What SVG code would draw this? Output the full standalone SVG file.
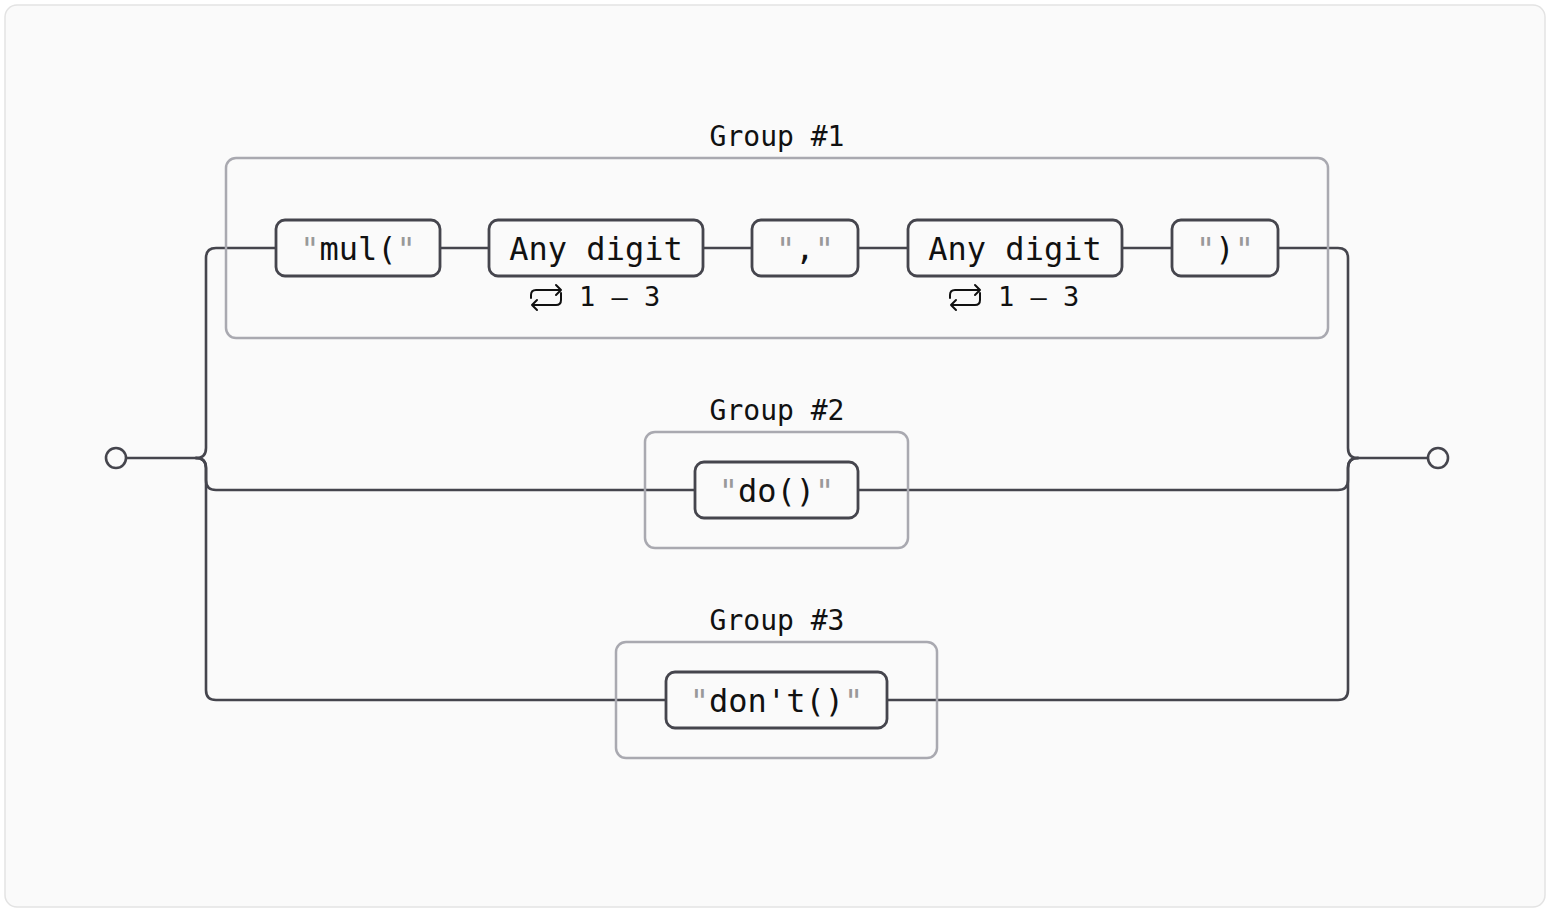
<svg xmlns="http://www.w3.org/2000/svg" width="1550" height="912" viewBox="0 0 1550 912">
<style>
.bg{fill:#fafafa;stroke:#e3e3e3;stroke-width:1.5}
.conn{fill:none;stroke:#45454d;stroke-width:2.6;stroke-linecap:round;stroke-linejoin:round}
.grp{fill:none;stroke:#a9a9b0;stroke-width:2.5}
.node{fill:#fafafa;stroke:#45454d;stroke-width:2.8}
.term{fill:#fafafa;stroke:#45454d;stroke-width:2.6}
.t{font-family:"DejaVu Sans Mono","Liberation Mono",monospace;font-size:32px;fill:#111;text-anchor:middle}
.q{fill:#999}
.gl{font-family:"DejaVu Sans Mono","Liberation Mono",monospace;font-size:28px;fill:#111;text-anchor:middle}
.rl{font-family:"DejaVu Sans Mono","Liberation Mono",monospace;font-size:27px;fill:#111}
.icon{fill:none;stroke:#111;stroke-width:2;stroke-linecap:round;stroke-linejoin:round}
</style>
<defs>
<g id="rep">
<path class="icon" d="M0,17 V14 Q0,9 5,9 H30 M25,4 L30,9 L25,14"/>
<path class="icon" d="M30,12 V19 Q30,24 25,24 H1 M6,19 L1,24 L6,29"/>
</g>
</defs>
<rect class="bg" x="5" y="5" width="1540" height="902" rx="12"/>
<g id="connectors">
<path class="conn" d="M126,458 H196"/>
<path class="conn" d="M196,458 Q206,458 206,448 V258 Q206,248 216,248 H276"/>
<path class="conn" d="M196,458 Q206,458 206,468 V480 Q206,490 216,490 H695"/>
<path class="conn" d="M196,458 Q206,458 206,468 V690 Q206,700 216,700 H666"/>
<path class="conn" d="M440,248 H489 M703,248 H752 M858,248 H908 M1122,248 H1172"/>
<path class="conn" d="M1278,248 H1338 Q1348,248 1348,258 V448 Q1348,458 1358,458"/>
<path class="conn" d="M858,490 H1338 Q1348,490 1348,480 V468 Q1348,458 1358,458"/>
<path class="conn" d="M887,700 H1338 Q1348,700 1348,690 V468 Q1348,458 1358,458"/>
<path class="conn" d="M1358,458 H1428"/>
</g>
<g id="start"><circle class="term" cx="116" cy="458" r="10"/></g>
<g id="end"><circle class="term" cx="1438" cy="458" r="10"/></g>
<g id="group1">
<rect class="grp" x="226" y="158" width="1102" height="180" rx="10"/>
<text class="gl" x="777" y="146">Group #1</text>
</g>
<g id="group2">
<rect class="grp" x="645" y="432" width="263" height="116" rx="10"/>
<text class="gl" x="777" y="420">Group #2</text>
</g>
<g id="group3">
<rect class="grp" x="616" y="642" width="321" height="116" rx="10"/>
<text class="gl" x="777" y="630">Group #3</text>
</g>
<g id="n-mul">
<rect class="node" x="276" y="220" width="164" height="56" rx="9"/>
<text class="t" x="358" y="260"><tspan class="q">"</tspan>mul(<tspan class="q">"</tspan></text>
</g>
<g id="n-digit1">
<rect class="node" x="489" y="220" width="214" height="56" rx="9"/>
<text class="t" x="596" y="260">Any digit</text>
<use href="#rep" x="531" y="281"/>
<text class="rl" x="579" y="306">1 – 3</text>
</g>
<g id="n-comma">
<rect class="node" x="752" y="220" width="106" height="56" rx="9"/>
<text class="t" x="805" y="260"><tspan class="q">"</tspan>,<tspan class="q">"</tspan></text>
</g>
<g id="n-digit2">
<rect class="node" x="908" y="220" width="214" height="56" rx="9"/>
<text class="t" x="1015" y="260">Any digit</text>
<use href="#rep" x="950" y="281"/>
<text class="rl" x="998" y="306">1 – 3</text>
</g>
<g id="n-close">
<rect class="node" x="1172" y="220" width="106" height="56" rx="9"/>
<text class="t" x="1225" y="260"><tspan class="q">"</tspan>)<tspan class="q">"</tspan></text>
</g>
<g id="n-do">
<rect class="node" x="695" y="462" width="163" height="56" rx="9"/>
<text class="t" x="776.5" y="502"><tspan class="q">"</tspan>do()<tspan class="q">"</tspan></text>
</g>
<g id="n-dont">
<rect class="node" x="666" y="672" width="221" height="56" rx="9"/>
<text class="t" x="776.5" y="712"><tspan class="q">"</tspan>don't()<tspan class="q">"</tspan></text>
</g>
</svg>
